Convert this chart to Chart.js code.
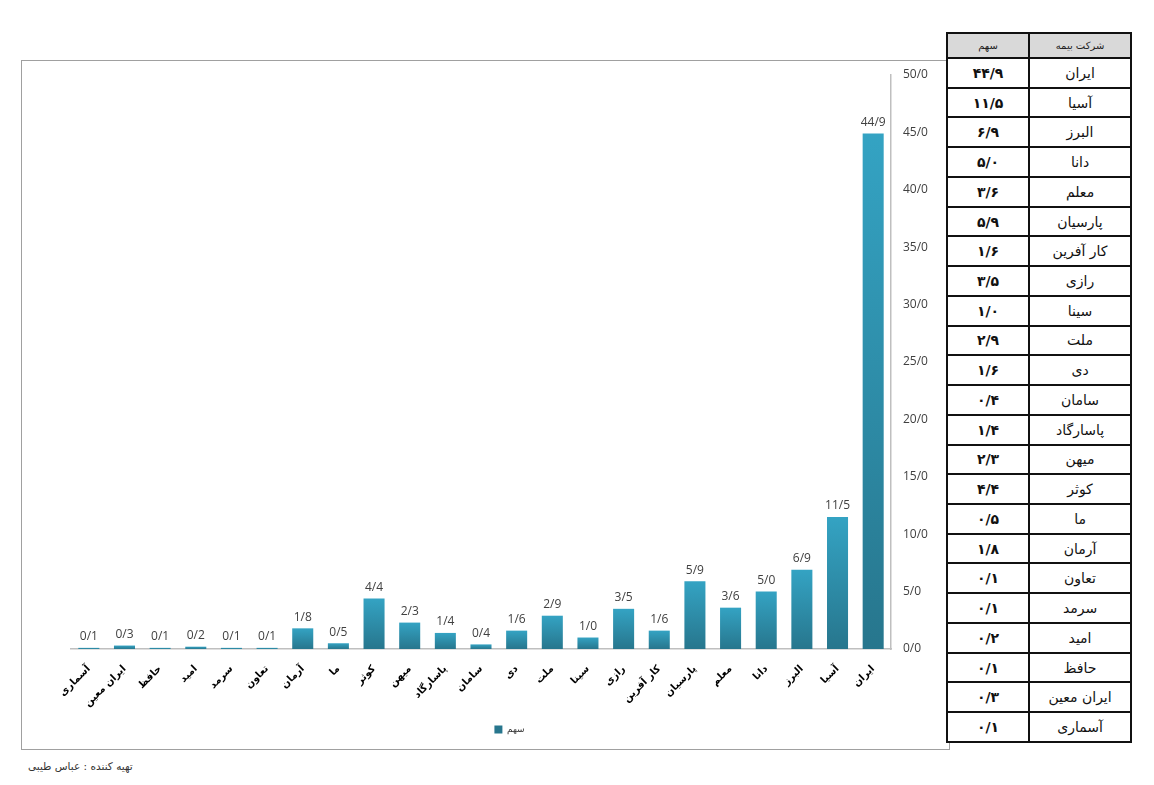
<!DOCTYPE html>
<html>
<head>
<meta charset="utf-8">
<script src="https://cdn.jsdelivr.net/npm/chart.js@4.4.1/dist/chart.umd.min.js"></script>
<style>
  body { margin: 0; background: #fff; width: 1154px; height: 785px; position: relative; overflow: hidden; }
  #frame { position: absolute; left: 21px; top: 60px; width: 929px; height: 690px; border: 1.5px solid #a0a0a0; box-sizing: border-box; }
  #frame canvas { position: absolute; left: 0; top: 0; }
  #shareTable { position: absolute; left: 946px; top: 32px; width: 186px; height: 711px; border-collapse: collapse; background: #fff; z-index: 2; font-family: "DejaVu Sans", sans-serif; }
  #shareTable td, #shareTable th { border: 2px solid #111; text-align: center; padding: 0; }
  #shareTable th { background: #d9d9d9; height: 23px; font-size: 10px; font-weight: normal; color: #222; }
  #shareTable td.name { width: 103px; font-size: 14px; color: #111; }
  #shareTable td.val { width: 83px; font-size: 14px; font-weight: bold; color: #111; }
  #footer { position: absolute; left: 28px; top: 760px; font-family: "DejaVu Sans", sans-serif; font-size: 10.5px; color: #333; direction: rtl; }
</style>
</head>
<body>
<div id="frame"><canvas id="myChart" width="926" height="687"></canvas></div>
<table id="shareTable" dir="rtl"></table>
<div id="footer">تهیه کننده : عباس طیبی</div>
<script>
// شرکت های بیمه، از چپ به راست نمودار
let companies = ['آسماری', 'ایران معین', 'حافظ', 'امید', 'سرمد', 'تعاون', 'آرمان', 'ما', 'کوثر', 'میهن', 'پاسارگاد', 'سامان', 'دی', 'ملت', 'سینا', 'رازی', 'کار آفرین', 'پارسیان', 'معلم', 'دانا', 'البرز', 'آسیا', 'ایران'];
let shares = [0.1, 0.3, 0.1, 0.2, 0.1, 0.1, 1.8, 0.5, 4.4, 2.3, 1.4, 0.4, 1.6, 2.9, 1.0, 3.5, 1.6, 5.9, 3.6, 5.0, 6.9, 11.5, 44.9];
let seriesName = 'سهم';
let tableHeaders = ['شرکت بیمه', 'سهم'];
let yTicks = [0, 5, 10, 15, 20, 25, 30, 35, 40, 45, 50];

function slashNum(v){
    return v.toFixed(1).replace('.', '/');
}
function faNum(v){
    const fa = '۰۱۲۳۴۵۶۷۸۹';
    return slashNum(v).replace(/[0-9]/g, d => fa[d]);
}

// table, largest company first
let table = document.querySelector('#shareTable');
let html = '<tr><th>' + tableHeaders[0] + '</th><th>' + tableHeaders[1] + '</th></tr>';
for (let i = companies.length - 1; i >= 0; i--) {
    html += '<tr><td class="name">' + companies[i] + '</td><td class="val">' + faNum(shares[i]) + '</td></tr>';
}
table.innerHTML = html;

// values above bars
const barLabels = {
    id: 'barLabels',
    afterDatasetsDraw(chart){
        const c = chart.ctx;
        c.save();
        c.font = '12px "Open Sans", sans-serif';
        c.fillStyle = '#404040';
        c.textAlign = 'center';
        c.textBaseline = 'bottom';
        chart.getDatasetMeta(0).data.forEach((bar, i) => {
            c.fillText(slashNum(shares[i]), bar.x, bar.y - 5);
        });
        c.restore();
    }
};

function barFill(context){
    const chart = context.chart;
    if (!chart.chartArea || context.type !== 'data') return '#2e8fab';
    const y = chart.scales.y;
    const top = y.getPixelForValue(context.raw);
    const bottom = y.getPixelForValue(0);
    const g = chart.ctx.createLinearGradient(0, top, 0, Math.max(bottom, top + 1));
    g.addColorStop(0, '#34a3c3');
    g.addColorStop(1, '#27768d');
    return g;
}

const ctx = document.querySelector('#myChart').getContext('2d');
const myChart = new Chart(ctx, {
    type: 'bar',
    data: {
        labels: companies,
        datasets: [{
            label: seriesName,
            data: shares,
            backgroundColor: barFill,
            borderColor: '#25748b',
            borderWidth: 0,
            barPercentage: 0.59,
            categoryPercentage: 1
        }]
    },
    plugins: [barLabels],
    options: {
        responsive: false,
        animation: false,
        layout: { padding: { left: 49, top: 14, right: 0, bottom: 4 } },
        plugins: {
            tooltip: { enabled: false },
            legend: {
                position: 'bottom',
                labels: {
                    boxWidth: 8,
                    boxHeight: 8,
                    padding: 8,
                    color: '#333',
                    font: { size: 9, family: '"DejaVu Sans", sans-serif' }
                }
            }
        },
        scales: {
            x: {
                grid: { display: false },
                border: { display: true, color: '#bfbfbf', width: 1.5 },
                ticks: {
                    autoSkip: false,
                    minRotation: 45,
                    maxRotation: 45,
                    padding: 6,
                    color: '#000',
                    font: { size: 10, weight: 'bold', family: '"DejaVu Sans", sans-serif' }
                },
                afterFit(scale){ scale.height = 68; }
            },
            y: {
                position: 'right',
                min: 0,
                max: 50,
                afterBuildTicks(scale){ scale.ticks = yTicks.map(v => ({ value: v })); },
                grid: { display: false, drawTicks: false },
                border: { display: true, color: '#bfbfbf', width: 1.5 },
                ticks: {
                    padding: 12,
                    color: '#404040',
                    font: { size: 12, family: '"Open Sans", sans-serif' },
                    callback: v => slashNum(v)
                },
                afterFit(scale){
                    scale.width = 57;
                    scale.paddingTop = 0;
                    scale.paddingBottom = 0;
                }
            }
        }
    }
});
</script>
</body>
</html>
